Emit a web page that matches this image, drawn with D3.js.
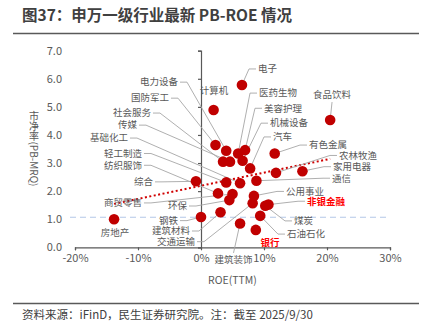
<!DOCTYPE html>
<html>
<head>
<meta charset="utf-8">
<script src="https://cdn.jsdelivr.net/npm/d3@7"></script>
<style>
  body { margin: 0; background: #fff; }
  svg text { font-family: "Noto Sans CJK SC", "Noto Sans", sans-serif; }
</style>
</head>
<body>
<div id="svganchor"></div>
<script>
let width = 426;
let height = 330;
let margin = ({top: 50.7, right: 36, bottom: 82.7, left: 75});

// SW level-1 industries, ROE(TTM) in %, PB-MRQ
let industries = ["房地产", "综合", "钢铁", "计算机", "国防军工", "电力设备", "社会服务", "传媒",
    "医药生物", "美容护理", "机械设备", "汽车", "有色金属", "农林牧渔", "家用电器", "轻工制造",
    "基础化工", "通信", "纺织服饰", "商贸零售", "环保", "公用事业", "煤炭", "非银金融",
    "建筑材料", "交通运输", "石油石化", "建筑装饰", "银行", "电子", "食品饮料"];
let roe = [-13.8, -0.8, 0.0, 2.0, 2.3, 4.0, 3.5, 4.6,
    5.9, 7.0, 6.6, 7.8, 11.7, 11.9, 16.1, 4.0,
    6.2, 8.8, 2.7, 5.0, 4.5, 8.4, 10.2, 10.7,
    3.1, 8.2, 9.4, 6.2, 8.7, 6.5, 20.5];
let pb = [1.00, 2.35, 1.08, 4.89, 3.64, 3.44, 3.05, 3.05,
    3.34, 3.46, 3.08, 2.81, 3.34, 2.65, 2.71, 2.31,
    2.28, 2.37, 1.92, 1.90, 1.68, 1.83, 1.48, 1.52,
    1.25, 1.57, 1.12, 0.85, 0.62, 5.78, 4.53];
let marketPB = 1.07;
let xTicks = [-20, -10, 0, 10, 20, 30];
let yTicks = [0, 1, 2, 3, 4, 5, 6, 7];
let highlight = ["非银金融", "银行"];

// where each label sits, in chart units (ROE, PB), and how it is anchored
let labelLayout = {
    "电力设备": [-3.65, 5.88, "end", true],
    "国防军工": [-5.08, 5.31, "end", true],
    "社会服务": [-7.94, 4.78, "end", true],
    "传媒": [-10.16, 4.35, "end", true],
    "基础化工": [-11.59, 3.89, "end", true],
    "轻工制造": [-9.37, 3.34, "end", true],
    "纺织服饰": [-9.37, 2.92, "end", true],
    "综合": [-7.62, 2.33, "end", true],
    "商贸零售": [-9.37, 1.58, "end", true],
    "环保": [-2.22, 1.47, "end", true],
    "钢铁": [-3.65, 0.95, "end", true],
    "建筑材料": [-1.75, 0.58, "end", true],
    "交通运输": [-0.95, 0.2, "end", true],
    "房地产": [-13.65, 0.51, "middle", false],
    "电子": [9.05, 6.35, "start", true],
    "医药生物": [9.21, 5.49, "start", true],
    "美容护理": [10.0, 4.95, "start", true],
    "机械设备": [10.95, 4.42, "start", true],
    "汽车": [11.43, 3.93, "start", true],
    "有色金属": [17.14, 3.64, "start", true],
    "农林牧渔": [21.9, 3.27, "start", true],
    "家用电器": [20.95, 2.87, "start", true],
    "通信": [20.8, 2.46, "start", true],
    "公用事业": [13.49, 1.99, "start", true],
    "非银金融": [16.83, 1.64, "start", true],
    "煤炭": [14.76, 0.94, "start", true],
    "石油石化": [13.65, 0.47, "start", true],
    "银行": [10.95, 0.15, "middle", false],
    "建筑装饰": [5.16, -0.45, "middle", true],
    "计算机": [2.06, 5.56, "middle", false],
    "食品饮料": [20.8, 5.42, "middle", true]
};

let data = industries.map(function(name, i) {
    return {name: name, roe: roe[i], pb: pb[i]};
});

let svg = d3.select("#svganchor")
    .append("svg")
    .attr("width", width)
    .attr("height", height);

// title and footer
svg.append("text")
    .attr("x", 22)
    .attr("y", 21)
    .attr("font-size", 15.5)
    .attr("font-weight", "bold")
    .attr("fill", "#404040")
    .text("图37：申万一级行业最新 PB-ROE 情况");

svg.append("line")
    .attr("x1", 13).attr("x2", 419)
    .attr("y1", 33.5).attr("y2", 33.5)
    .attr("stroke", "#595959")
    .attr("stroke-width", 1.5);

svg.append("line")
    .attr("x1", 13).attr("x2", 419)
    .attr("y1", 303.5).attr("y2", 303.5)
    .attr("stroke", "#595959")
    .attr("stroke-width", 1.5);

svg.append("text")
    .attr("x", 22)
    .attr("y", 319)
    .attr("font-size", 11.5)
    .attr("fill", "#404040")
    .text("资料来源：iFinD，民生证券研究院。注：截至 2025/9/30");

let xScale = d3.scaleLinear()
    .domain([-20, 30])
    .range([margin.left, width - margin.right]);

let yScale = d3.scaleLinear()
    .domain([0, 7])
    .range([height - margin.bottom, margin.top]);

// X axis along PB = 0
let xAxis = svg.append("g")
    .attr("transform", "translate(0," + yScale(0) + ")")
    .call(d3.axisBottom(xScale)
        .tickValues(xTicks)
        .tickSize(3)
        .tickPadding(4)
        .tickFormat(function(d) { return d + "%"; }));

// Y axis line sits at ROE = 0, its labels stay at the left edge
let yAxis = svg.append("g")
    .attr("transform", "translate(" + xScale(0) + ",0)")
    .call(d3.axisLeft(yScale)
        .tickValues(yTicks)
        .tickSize(3)
        .tickFormat(""));

svg.selectAll(".ylab")
    .data(yTicks)
    .enter()
    .append("text")
    .attr("class", "ylab")
    .attr("x", 62)
    .attr("y", function(d) { return yScale(d); })
    .attr("dy", "0.35em")
    .attr("text-anchor", "end")
    .attr("font-size", 11)
    .attr("fill", "#595959")
    .text(function(d) { return d.toFixed(1); });

svg.selectAll(".domain, .tick line")
    .attr("stroke", "#595959")
    .attr("stroke-width", 1.2);
xAxis.selectAll("text")
    .attr("font-size", 11)
    .attr("fill", "#595959");

// axis titles
svg.append("text")
    .attr("x", (xScale.range()[0] + xScale.range()[1]) / 2)
    .attr("y", 284)
    .attr("text-anchor", "middle")
    .attr("font-size", 10.5)
    .attr("fill", "#595959")
    .text("ROE(TTM)");

svg.append("text")
    .attr("x", 34)
    .attr("y", (yScale.range()[0] + yScale.range()[1]) / 2)
    .attr("text-anchor", "middle")
    .attr("font-size", 10)
    .attr("fill", "#595959")
    .style("writing-mode", "vertical-rl")
    .text("市净率(PB-MRQ)");

// market PB reference line
svg.append("line")
    .attr("x1", xScale.range()[0] - 5)
    .attr("x2", xScale.range()[1] - 3)
    .attr("y1", yScale(marketPB))
    .attr("y2", yScale(marketPB))
    .attr("stroke", "#b4c7e7")
    .attr("stroke-width", 1.2)
    .attr("stroke-dasharray", "6,4");

// linear trend line (least squares, over the data's ROE extent)
let meanX = d3.mean(data, function(d) { return d.roe; });
let meanY = d3.mean(data, function(d) { return d.pb; });
let sxy = d3.sum(data, function(d) { return (d.roe - meanX) * (d.pb - meanY); });
let sxx = d3.sum(data, function(d) { return (d.roe - meanX) * (d.roe - meanX); });
let slope = sxy / sxx;
let intercept = meanY - slope * meanX;
let xExt = d3.extent(data, function(d) { return d.roe; });

svg.append("line")
    .attr("x1", xScale(xExt[0]))
    .attr("y1", yScale(intercept + slope * xExt[0]))
    .attr("x2", xScale(xExt[1]))
    .attr("y2", yScale(intercept + slope * xExt[1]))
    .attr("stroke", "#d00000")
    .attr("stroke-width", 2)
    .attr("stroke-dasharray", "2,2.5");

// leader lines: short horizontal stub next to the text, then straight to the dot
let leaders = svg.append("g");
let labels = svg.append("g");

data.forEach(function(d) {
    let lay = labelLayout[d.name];
    let lx = xScale(lay[0]);
    let ly = yScale(lay[1]);
    let isRed = highlight.indexOf(d.name) >= 0;

    labels.append("text")
        .attr("x", lx)
        .attr("y", ly)
        .attr("dy", "0.35em")
        .attr("text-anchor", lay[2])
        .attr("font-size", 9.5)
        .attr("font-weight", isRed ? "bold" : "normal")
        .attr("fill", isRed ? "#ff0000" : "#595959")
        .text(d.name);

    if (!lay[3]) return;

    let px = xScale(d.roe);
    let py = yScale(d.pb);
    let pts;
    if (lay[2] === "end") {
        pts = [[lx + 2, ly], [lx + 9, ly], [px, py]];
    } else if (lay[2] === "start") {
        pts = [[lx - 2, ly], [lx - 9, ly], [px, py]];
    } else {
        // centred labels get a vertical stub above or below
        let dir = py < ly ? -1 : 1;
        pts = [[lx, ly + dir * 7], [px, py]];
    }
    leaders.append("path")
        .attr("d", d3.line()(pts))
        .attr("fill", "none")
        .attr("stroke", "#a6a6a6")
        .attr("stroke-width", 0.9);
});

// industry points
svg.selectAll(".dot")
    .data(data)
    .enter()
    .append("circle")
    .attr("class", "dot")
    .attr("cx", function(d) { return xScale(d.roe); })
    .attr("cy", function(d) { return yScale(d.pb); })
    .attr("r", 5.3)
    .attr("fill", "#c00000");

// keep labels above points
labels.raise();
</script>
</body>
</html>
